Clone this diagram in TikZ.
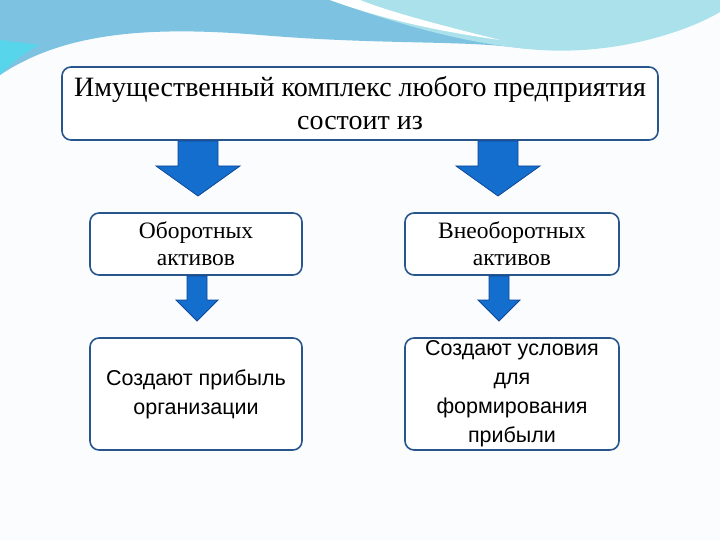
\documentclass[tikz,border=0pt]{standalone}
\usepackage{fontspec}
\setmainfont{Liberation Serif}
\newfontfamily\arialf{Liberation Sans}
\begin{document}
\begin{tikzpicture}[x=1pt,y=-1pt,
  box/.style={draw=boxblue,line width=1.6pt,fill=white,rounded corners=9pt,align=center,inner sep=0pt},
  arr/.style={fill=arrblue,draw=arrdark,line width=0.8pt}]
\definecolor{boxblue}{RGB}{40,85,140}
\definecolor{arrblue}{RGB}{20,110,205}
\definecolor{arrdark}{RGB}{15,70,150}
\definecolor{bgc}{RGB}{250,252,254}
\definecolor{wave1}{RGB}{125,195,225}
\definecolor{wave2}{RGB}{170,225,235}
\useasboundingbox (0,0) rectangle (720,540);
\fill[bgc] (0,0) rectangle (720,540);
\fill[wave1] (0,0) -- (0,75) .. controls (60,35) and (140,25) .. (260,35) .. controls (380,45) and (460,40) .. (520,48) .. controls (600,55) and (680,35) .. (720,0) -- cycle;
\fill[wave2] (330,0) .. controls (400,25) and (470,45) .. (540,50) .. controls (620,55) and (690,30) .. (720,12) -- (720,0) -- cycle;
\fill[white] (330,0) .. controls (380,18) and (430,30) .. (500,40) .. controls (440,25) and (390,12) .. (360,0) -- cycle;
\fill[wave1!70!cyan] (0,75) .. controls (15,60) and (25,52) .. (40,45) -- (0,40) -- cycle;
\node[box,minimum width=596pt,minimum height=73pt,font=\fontsize{28pt}{33pt}\selectfont] (top) at (360,103.5) {Имущественный комплекс любого предприятия\\состоит из};
\node[box,minimum width=212pt,minimum height=62pt,font=\fontsize{23.5pt}{27pt}\selectfont] (b1) at (196,244) {Оборотных\\активов};
\node[box,minimum width=214pt,minimum height=62pt,font=\fontsize{23.5pt}{27pt}\selectfont] (b2) at (512,244) {Внеоборотных\\активов};
\node[box,minimum width=212pt,minimum height=112pt,font=\arialf\fontsize{21.5pt}{29pt}\selectfont] (b3) at (196,394) {Создают прибыль\\организации};
\node[box,minimum width=214pt,minimum height=112pt,font=\arialf\fontsize{21.5pt}{29pt}\selectfont] (b4) at (512,394) {Создают условия\\для\\формирования\\прибыли};
\foreach \cx in {198,498}{
 \draw[arr] (\cx-20,141) -- (\cx+20,141) -- (\cx+20,166) -- (\cx+42,166) -- (\cx,196) -- (\cx-42,166) -- (\cx-20,166) -- cycle;}
\foreach \cx in {197,499}{
 \draw[arr] (\cx-10,276) -- (\cx+10,276) -- (\cx+10,300) -- (\cx+21,300) -- (\cx,321) -- (\cx-21,300) -- (\cx-10,300) -- cycle;}
\end{tikzpicture}
\end{document}
